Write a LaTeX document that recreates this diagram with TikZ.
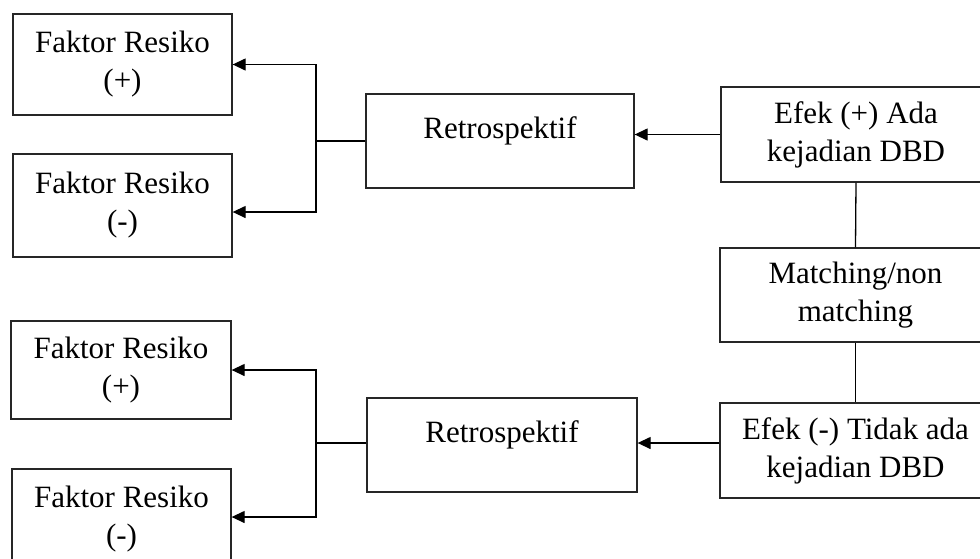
\documentclass[tikz,border=0pt]{standalone}
\usepackage{fontspec}
\setmainfont{Liberation Serif}
\usetikzlibrary{arrows.meta,calc}
\tikzset{
  box/.style={draw=black!85, line width=1.3pt, rectangle, inner sep=0pt, align=center,
    font=\fontsize{31}{38}\selectfont},
  lbl/.style={inner sep=0pt, anchor=base, font=\fontsize{31}{38}\selectfont},
  conn/.style={draw=black, line width=1.3pt},
  arr/.style={conn, -{Triangle[length=13pt,width=12pt]}}
}
\begin{document}
\begin{tikzpicture}[x=1pt,y=-1pt]
\useasboundingbox (0,0) rectangle (980,558);
\clip (0,0) rectangle (980,558);
% left boxes
\node[box, minimum width=219pt, minimum height=101pt] (f1) at (122.5,64.5) {Faktor Resiko\\(+)};
\node[box, minimum width=219pt, minimum height=103pt] (f2) at (122.5,205.5) {Faktor Resiko\\(-)};
\node[box, minimum width=220pt, minimum height=98pt] (f3) at (121,370) {Faktor Resiko\\(+)};
\node[box, minimum width=219pt, minimum height=101pt] (f4) at (121.5,519.5) {Faktor Resiko\\(-)};
% retrospektif boxes
\node[box, minimum width=268pt, minimum height=94pt] (r1) at (500,141) {};
\node[lbl] (r1t) at (500,138) {Retrospektif};
\node[box, minimum width=270pt, minimum height=94pt] (r2) at (502,445) {};
\node[lbl] (r2t) at (502,442) {Retrospektif};
% right boxes
\node[box, minimum width=270pt, minimum height=95pt] (e1) at (856,134.5) {Efek (+) Ada\\kejadian DBD};
\node[box, minimum width=271pt, minimum height=94pt] (m) at (855.5,295) {Matching/non\\matching};
\node[box, minimum width=271pt, minimum height=95pt] (e2) at (855.5,450.5) {Efek (-) Tidak ada\\kejadian DBD};
% junctions
\coordinate (j1) at (316,141);
\coordinate (j2) at (316,443);
% connectors
\draw[conn] (r1.west) -- (j1);
\draw[arr] (j1) |- (f1.east);
\draw[arr] (j1) |- ([yshift=-6.5pt]f2.east);
\draw[conn] ([yshift=2pt]r2.west) -- (j2);
\draw[arr] (j2) |- (f3.east);
\draw[arr] (j2) |- ([yshift=2.5pt]f4.east);
\draw[arr] (e1.west) -- (e1.west -| r1.east);
\draw[arr] ([yshift=7.5pt]e2.west) -- ([yshift=7.5pt]e2.west -| r2.east);
\draw[conn] (e1.south) -- (m.north);
\draw[conn] (m.south) -- (e2.north);
\end{tikzpicture}
\end{document}
